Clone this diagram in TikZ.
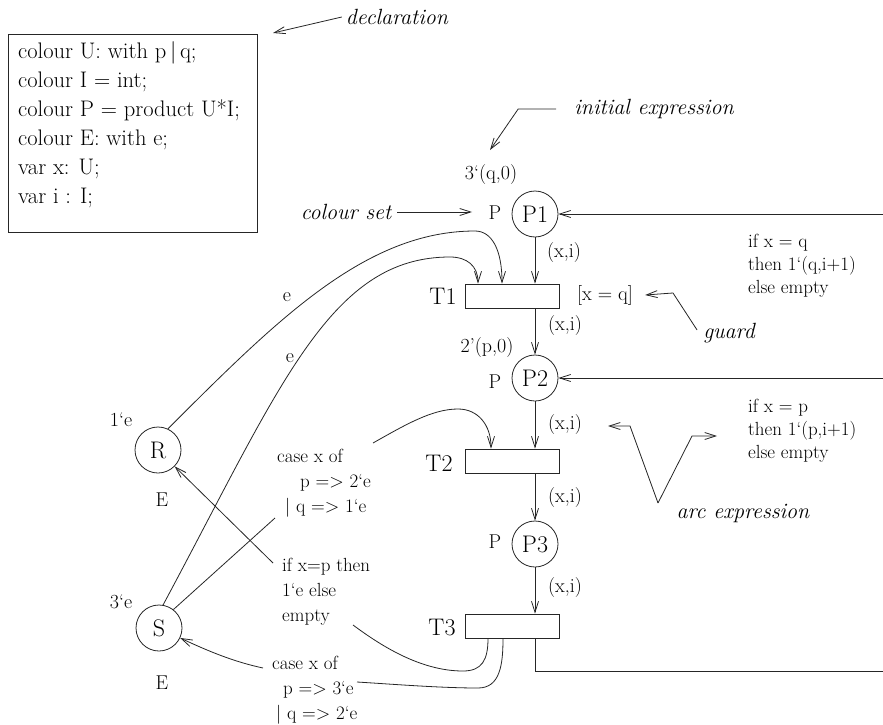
\documentclass[tikz,border=0pt]{standalone}
\usetikzlibrary{arrows.meta}
\begin{document}
\begin{tikzpicture}[x=1pt,y=-1pt,
  ln/.style={line width=0.8pt, draw=black!85},
  arr/.style={ln, -{Straight Barb[length=11pt,width=7pt]}},
  place/.style={circle, ln, minimum size=46pt, inner sep=0pt, font=\fontsize{24}{28}\selectfont},
  trans/.style={rectangle, ln, minimum width=94pt, minimum height=24pt, inner sep=0pt},
  big/.style={font=\fontsize{24}{28}\selectfont, inner sep=0pt},
  lab/.style={font=\fontsize{20}{24}\selectfont, inner sep=0pt},
  note/.style={font=\fontsize{22}{26}\selectfont\itshape, inner sep=0pt},
  codetext/.style={font=\fontsize{19}{25}\selectfont, inner sep=0pt, align=left},
  exprtext/.style={font=\fontsize{19}{23}\selectfont, inner sep=0pt, align=left},
  decltext/.style={font=\fontsize{22.5}{29}\selectfont, inner sep=0pt, align=left}]
\path[use as bounding box] (0,0) rectangle (883,725);

% declaration box
\node[ln, draw, minimum width=249pt, minimum height=198pt, anchor=north west, inner sep=0pt] (declbox) at (8,34) {};
\node[decltext, anchor=west] (decl) at (18,125) {colour U: with p\,|\,q;\\colour I = int;\\colour P = product U*I;\\colour E: with e;\\var x: U;\\var i : I;};

% places and transitions
\node[place] (P1) at (535,214) {P1};
\node[place] (P2) at (535,378) {P2};
\node[place] (P3) at (535,544) {P3};
\node[place] (R) at (158,450) {R};
\node[place] (S) at (159,628) {S};
\node[trans] (T1) at (512,296) {};
\node[trans] (T2) at (512,461) {};
\node[trans] (T3) at (512,626) {};

\node[big] (T1l) at (443,296) {T1};
\node[big] (T2l) at (439,463) {T2};
\node[big] (T3l) at (442,628) {T3};

\node[lab] (P1c) at (495,213) {P};
\node[lab] (P2c) at (495,382) {P};
\node[lab] (P3c) at (495,542) {P};
\node[lab] (P1i) at (491,175) {3‘(q,0)};
\node[lab] (P2i) at (487,348) {2’(p,0)};
\node[lab] (Ri) at (121,420) {1‘e};
\node[lab] (Rc) at (162,500) {E};
\node[lab] (Si) at (121,602) {3‘e};
\node[lab] (Sc) at (162,683) {E};

% main cycle
\draw[arr] (P1) -- (P1 |- T1.north);
\draw[arr] (P1 |- T1.south) -- (P2);
\draw[arr] (P2) -- (P2 |- T2.north);
\draw[arr] (P2 |- T2.south) -- (P3);
\draw[arr] (P3) -- (P3 |- T3.north);
\node[lab] (a1) at (564,253) {(x,i)};
\node[lab] (a2) at (565,326) {(x,i)};
\node[lab] (a3) at (565,425) {(x,i)};
\node[lab] (a4) at (565,498) {(x,i)};
\node[lab] (a5) at (565,588) {(x,i)};

% lines leaving to the right
\coordinate (r1) at (883,214);
\coordinate (r2) at (883,378);
\coordinate (r3) at (883,671);
\draw[arr] (r1) -- (P1);
\draw[arr] (r2) -- (P2);
\draw[ln] (P3 |- T3.south) |- (r3);
\node[exprtext, anchor=west] (x1) at (748,266) {if x = q\\then 1‘(q,i+1)\\else empty};
\node[exprtext, anchor=west] (x2) at (748,431) {if x = p\\then 1‘(p,i+1)\\else empty};

% guard
\node[lab] (grd) at (605,295) {[x = q]};

% R and S into T1
\coordinate (t1a) at ([xshift=-10pt]T1.north);
\coordinate (t1b) at ([xshift=-34pt]T1.north);
\draw[arr] (R.65) .. controls (276,321) and (365,231) .. (475,231) .. controls (492,231) and (502,250) .. (t1a);
\draw[arr] (S.80) .. controls (281,385) and (330,257) .. (450,257) .. controls (467,257) and (478,266) .. (t1b);
\node[lab] (e1) at (287,297) {e};
\node[lab] (e2) at (290,358) {e};

% S into T2 via text
\node[codetext, anchor=west] (cs1) at (277,483) {case x of\\\hspace*{23pt}p => 2‘e\\\hspace*{8pt}| q => 1‘e};
\coordinate (c6) at (275,518);
\coordinate (c1) at (373,443);
\coordinate (t2a) at ([xshift=-21pt]T2.north);
\draw[ln] (S.52) -- (c6);
\draw[arr] (c1) .. controls (405,425) and (432,409) .. (458,409) .. controls (478,409) and (491,425) .. (t2a);

% T3 to R via text
\node[codetext, anchor=west] (cs2) at (282,592) {if x=p then\\1‘e else\\empty};
\coordinate (t3a) at ([xshift=-24pt]T3.south);
\coordinate (c2) at (353,625);
\coordinate (c3) at (273,563);
\draw[ln] (t3a) .. controls (488,660) and (482,671) .. (463,671) .. controls (420,671) and (380,645) .. (c2);
\draw[arr] (c3) -- (R);

% T3 to S via text
\node[codetext, anchor=west] (cs3) at (272,690) {case x of\\\hspace*{11pt}p => 3‘e\\\hspace*{4pt}| q => 2‘e};
\coordinate (t3b) at ([xshift=-9pt]T3.south);
\coordinate (c4) at (357,682);
\coordinate (c5) at (263,668);
\draw[ln] (t3b) .. controls (503,665) and (500,688) .. (478,688) .. controls (440,688) and (390,684) .. (c4);
\draw[arr] (c5) .. controls (235,662) and (210,652) .. (S);

% annotations
\node[note] (declL) at (397,17) {declaration};
\coordinate (declA) at (273,33);
\draw[arr] ([xshift=-4pt]declL.west) -- (declA);

\node[note] (iniL) at (654,109) {initial expression};
\coordinate (iniA) at (490,150);
\draw[arr] ([xshift=-18pt]iniL.west) -- ++(-38,0) -- (iniA);

\node[note] (csL) at (346,212) {colour set};
\coordinate (csA) at (472,212);
\draw[arr] ([xshift=6pt]csL.east) -- (csA);

\node[note] (gL) at (729,333) {guard};
\draw[arr] ([xshift=-6pt,yshift=3pt]gL.west) -- (673,293) -- ([xshift=12pt]grd.east);

\node[note] (aeL) at (743,513) {arc expression};
\coordinate (aeV) at (658,503);
\coordinate (aeA) at (608,426);
\coordinate (aeB) at (717,436);
\draw[arr] (aeV) -- (630,426) -- (aeA);
\draw[arr] (aeV) -- (692,436) -- (aeB);
\end{tikzpicture}
\end{document}
